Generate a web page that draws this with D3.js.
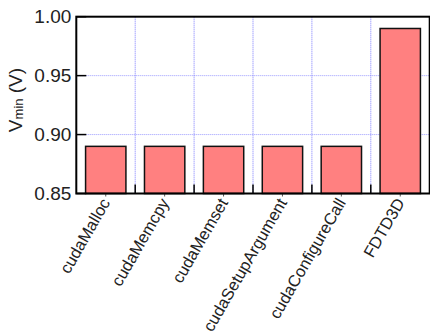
<!DOCTYPE html>
<html>
<head>
<meta charset="utf-8">
<script src="https://cdn.jsdelivr.net/npm/d3@7"></script>
<style>
  html, body { margin: 0; padding: 0; background: #fff; }
  svg { display: block; font-family: "Liberation Sans", Arial, Helvetica, sans-serif; }
</style>
</head>
<body>
<svg id="chart" width="430" height="332"></svg>
<script>
// Minimum operating voltage per CUDA call / kernel
const categories = ["cudaMalloc", "cudaMemcpy", "cudaMemset", "cudaSetupArgument", "cudaConfigureCall", "FDTD3D"];
const vminValues = [0.89, 0.89, 0.89, 0.89, 0.89, 0.99];
const yTickValues = [0.85, 0.90, 0.95, 1.00];
const yGridValues = [0.90, 0.95];

const svg = d3.select("#chart");

const plotL = 76.3, plotR = 429.7, plotT = 16.7, plotB = 193.5;

const x = d3.scaleBand().domain(categories).range([plotL, plotR]).padding(0);
const y = d3.scaleLinear().domain([0.85, 1.00]).range([plotB, plotT]);

const barW = x.bandwidth() * 0.685;

// horizontal grid
svg.append("g").selectAll("line").data(yGridValues).join("line")
  .attr("x1", plotL).attr("x2", plotR)
  .attr("y1", d => y(d)).attr("y2", d => y(d))
  .attr("stroke", "#9a9aff").attr("stroke-width", 1)
  .attr("stroke-dasharray", "1,1");

// vertical grid between categories
const bounds = categories.slice(1).map(c => x(c));
svg.append("g").selectAll("line").data(bounds).join("line")
  .attr("x1", d => d).attr("x2", d => d)
  .attr("y1", plotT).attr("y2", plotB)
  .attr("stroke", "#7a7aff").attr("stroke-width", 1)
  .attr("stroke-dasharray", "1,1");

// bars
svg.append("g").selectAll("rect").data(categories).join("rect")
  .attr("x", (c) => x(c) + x.bandwidth() / 2 - barW / 2)
  .attr("y", (c, i) => y(vminValues[i]))
  .attr("width", barW)
  .attr("height", (c, i) => y(0.85) - y(vminValues[i]))
  .attr("fill", "#ff8080")
  .attr("stroke", "#111")
  .attr("stroke-width", 1.5);

// inward ticks at category boundaries on the x axis
svg.append("g").selectAll("line").data(bounds).join("line")
  .attr("x1", d => d).attr("x2", d => d)
  .attr("y1", plotB - 9).attr("y2", plotB)
  .attr("stroke", "#000").attr("stroke-width", 1.5);

// small outward ticks under each category
svg.append("g").selectAll("line").data(categories).join("line")
  .attr("x1", c => x(c) + x.bandwidth() / 2).attr("x2", c => x(c) + x.bandwidth() / 2)
  .attr("y1", plotB).attr("y2", plotB + 3)
  .attr("stroke", "#555").attr("stroke-width", 1);

// y axis ticks (inward) and labels
svg.append("g").selectAll("line").data(yTickValues).join("line")
  .attr("x1", plotL).attr("x2", plotL + 10)
  .attr("y1", d => y(d)).attr("y2", d => y(d))
  .attr("stroke", "#000").attr("stroke-width", 1.5);

svg.append("g").selectAll("text").data(yTickValues).join("text")
  .attr("x", plotL - 5)
  .attr("y", d => y(d))
  .attr("dy", "0.35em")
  .attr("text-anchor", "end")
  .attr("font-size", 19)
  .attr("fill", "#222")
  .text(d => d3.format(".2f")(d));

// frame
svg.append("rect")
  .attr("x", plotL).attr("y", plotT)
  .attr("width", plotR - plotL).attr("height", plotB - plotT)
  .attr("fill", "none").attr("stroke", "#000").attr("stroke-width", 2);

// rotated category labels
svg.append("g").selectAll("text").data(categories).join("text")
  .attr("transform", c => `translate(${x(c) + x.bandwidth() / 2 + 5},${plotB + 9}) rotate(-60)`)
  .attr("text-anchor", "end")
  .attr("font-size", 16.5)
  .attr("fill", "#222")
  .text(c => c);

// y axis title
const yt = svg.append("text")
  .attr("transform", `translate(22,100) rotate(-90)`)
  .attr("text-anchor", "middle")
  .attr("font-size", 19)
  .attr("fill", "#222");
yt.append("tspan").text("V");
yt.append("tspan").attr("font-size", 13).attr("dy", 1).text("min");
yt.append("tspan").attr("dy", -1).text(" (V)");
</script>
</body>
</html>
